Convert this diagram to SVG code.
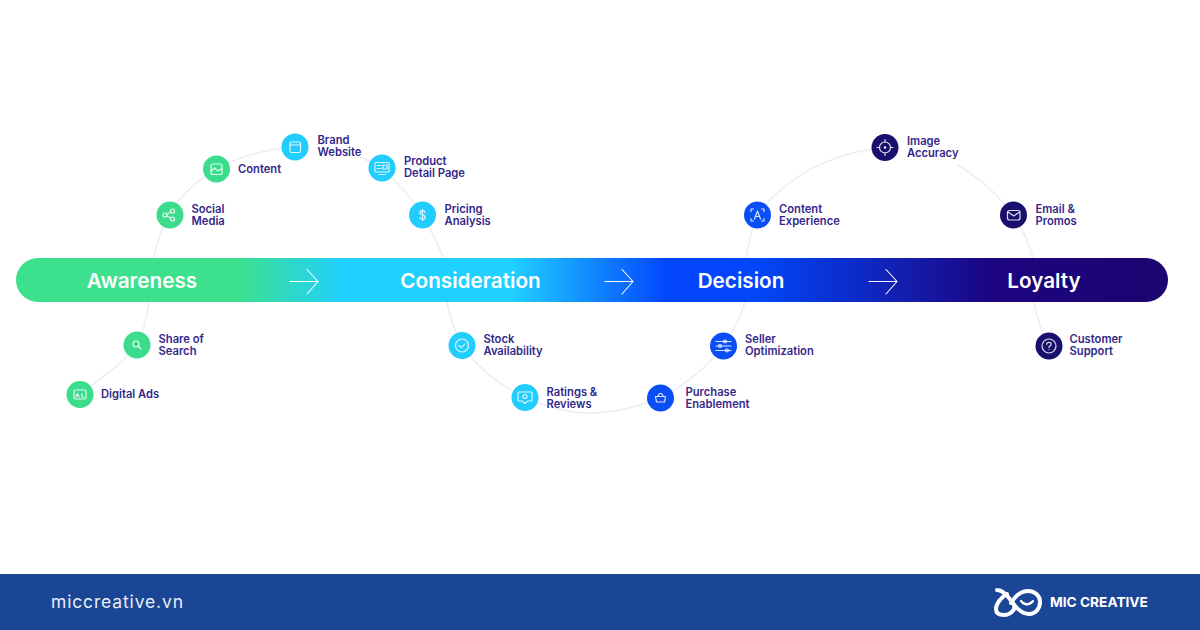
<svg xmlns="http://www.w3.org/2000/svg" width="1200" height="630" viewBox="0 0 1200 630">
<style>
.c{fill:none;stroke:#eeedf3;stroke-width:1.5;stroke-linecap:round}
.n{font:600 11.2px Inter,"Liberation Sans",sans-serif;fill:#33278a}
.s{font:600 20.7px Inter,"Liberation Sans",sans-serif;fill:#fff;text-anchor:middle}
.i{fill:none;stroke:#fff;stroke-width:1.2;stroke-linecap:round;stroke-linejoin:round;stroke-opacity:.85}
.a{fill:none;stroke:#fff;stroke-width:1.1;stroke-linecap:round;stroke-linejoin:round}
.g{fill:#3bdc8c}.b{fill:#20cdfd}.l{fill:#0a4ef5}.d{fill:#1b0f6e}
</style>
<defs>
<linearGradient id="bar" x1="16" x2="1168" y1="0" y2="0" gradientUnits="userSpaceOnUse">
<stop offset="0" stop-color="#3de08c"/>
<stop offset=".19" stop-color="#3de08c"/>
<stop offset=".285" stop-color="#20d0ff"/>
<stop offset=".43" stop-color="#20d0ff"/>
<stop offset=".565" stop-color="#0346ff"/>
<stop offset=".645" stop-color="#0346f8"/>
<stop offset=".85" stop-color="#1c0480"/>
<stop offset="1" stop-color="#1a0570"/>
</linearGradient>
</defs>
<rect width="1200" height="630" fill="#fff"/>
<g id="connectors">
<path class="c" d="M80 394C105 376 128 358 137 345C143 333 147 317 149 302"/>
<path class="c" d="M154 258C157 241 162 227 169 214C180 196 198 180 216 169C240 156 268 149 295 147"/>
<path class="c" d="M362 158C369 161 375 165 381 168C397 181 411 197 422 215C432 232 439 245 443 258"/>
<path class="c" d="M447 302C450 318 455 332 462 345C476 367 500 386 525 397C546 407 570 413 590 413C615 413 640 406 660 398C685 385 708 366 723 346C733 331 741 317 745 302"/>
<path class="c" d="M746 258C749 242 752 228 757 215C785 178 830 152 885 148"/>
<path class="c" d="M958 165C980 178 998 195 1013 215C1023 229 1029 243 1033 258"/>
<path class="c" d="M1034 302C1037 318 1041 332 1049 346"/>
</g>
<g id="stage-bar">
<rect x="16" y="258" width="1152" height="44" rx="22" fill="url(#bar)"/>
<text class="s" x="142" y="287.500">Awareness</text>
<text class="s" x="470.500" y="287.500">Consideration</text>
<text class="s" x="741" y="287.500">Decision</text>
<text class="s" x="1044" y="287.500">Loyalty</text>
</g>
<g id="arrows">
<path class="a" d="M290 281.500H318M307 269.500L318 281.500L307 294"/>
<path class="a" d="M605 281.500H633M622 269.500L633 281.500L622 294"/>
<path class="a" d="M869 281.500H897M886 269.500L897 281.500L886 294"/>
</g>
<g id="node-digital-ads"><circle class="g" cx="80" cy="394.500" r="13.500"/><rect class="i" x="74" y="390" width="12" height="9" rx="1.500"/><path class="i" d="M76 397l1.500-3.500 1.500 3.500M82 393.500v3.500h2"/><text class="n" x="101" y="398">Digital Ads</text></g>
<g id="node-share-of-search"><circle class="g" cx="137" cy="345" r="13.500"/><circle class="i" cx="136" cy="344" r="3"/><path class="i" d="M138.500 346.500L141 349"/><text class="n" x="158.500" y="342.500">Share of</text><text class="n" x="158.500" y="354.500">Search</text></g>
<g id="node-social-media"><circle class="g" cx="170" cy="215" r="13.500"/><circle class="i" cx="165" cy="215" r="2"/><circle class="i" cx="172.500" cy="211" r="2"/><circle class="i" cx="172.500" cy="219" r="2"/><path class="i" d="M167 214l3.500-2M167 216l3.500 2"/><text class="n" x="191.500" y="212.500">Social</text><text class="n" x="191.500" y="224.500">Media</text></g>
<g id="node-content"><circle class="g" cx="216.500" cy="169" r="13.500"/><rect class="i" x="211" y="164" width="11" height="10.500" rx="2"/><path class="i" d="M211.500 171l3-3 3.500 3 4-2.500"/><text class="n" x="238" y="172.500">Content</text></g>
<g id="node-brand-website"><circle class="b" cx="295" cy="147" r="13.500"/><rect class="i" x="290" y="142" width="10.500" height="10.500" rx="1.500"/><path class="i" d="M290 145h10.500"/><text class="n" x="317.500" y="144">Brand</text><text class="n" x="317.500" y="156">Website</text></g>
<g id="node-product-detail-page"><circle class="b" cx="382" cy="168" r="13.500"/><rect class="i" x="375" y="162.500" width="14" height="9.500" rx="1"/><path class="i" d="M377 165.500h4M377 168.500h4M383 165h4v4h-4zM379 174.500h6"/><text class="n" x="404" y="165">Product</text><text class="n" x="404" y="177">Detail Page</text></g>
<g id="node-pricing-analysis"><circle class="b" cx="422.500" cy="215" r="13.500"/><path class="i" d="M425 212.500c-.4-1.300-1.300-1.800-2.500-1.800s-2.600.7-2.600 2.100 1.300 1.900 2.600 2.200 2.600.9 2.600 2.200-1.300 2.100-2.600 2.100-2.200-.6-2.600-1.700M422.500 209.500v11"/><text class="n" x="444.500" y="212.500">Pricing</text><text class="n" x="444.500" y="224.500">Analysis</text></g>
<g id="node-stock-availability"><circle class="b" cx="462" cy="345.500" r="13.500"/><circle class="i" cx="462" cy="345.500" r="6.500"/><path class="i" d="M459 345.500l2.200 2.200 3.800-3.800"/><text class="n" x="483.500" y="343">Stock</text><text class="n" x="483.500" y="355">Availability</text></g>
<g id="node-ratings-reviews"><circle class="b" cx="525" cy="397.500" r="13.500"/><path class="i" d="M519 392h12a1 1 0 0 1 1 1v7a1 1 0 0 1-1 1h-3l-3 2.500-3-2.500h-3a1 1 0 0 1-1-1v-7a1 1 0 0 1 1-1z"/><circle class="i" cx="525" cy="396.500" r="2"/><text class="n" x="546.500" y="395.500">Ratings &amp;</text><text class="n" x="546.500" y="407.500">Reviews</text></g>
<g id="node-purchase-enablement"><circle class="l" cx="660.500" cy="398" r="13.500"/><path class="i" d="M655.500 396.500h10l-1 5.500h-8zM657.500 396.500l2-3h2l2 3"/><text class="n" x="685.500" y="395.500">Purchase</text><text class="n" x="685.500" y="407.500">Enablement</text></g>
<g id="node-seller-optimization"><circle class="l" cx="723.500" cy="346" r="13.500"/><path class="i" d="M716 341.500h15M716 346h15M716 350.500h15"/><circle class="i" cx="725" cy="341.500" r="1.500" fill="#0a4ef5"/><circle class="i" cx="720" cy="346" r="1.500" fill="#0a4ef5"/><circle class="i" cx="727" cy="350.500" r="1.500" fill="#0a4ef5"/><text class="n" x="745" y="343">Seller</text><text class="n" x="745" y="355">Optimization</text></g>
<g id="node-content-experience"><circle class="l" cx="757.500" cy="215" r="13.500"/><path class="i" d="M751 211.500v-2.500h2.500M761.500 209h2.500v2.500M751 218.500v2.500h2.500M761.500 221h2.500v-2.500M754.500 219l3-8 3 8M755.500 216.500h4"/><text class="n" x="779" y="212.500">Content</text><text class="n" x="779" y="224.500">Experience</text></g>
<g id="node-image-accuracy"><circle class="d" cx="885" cy="147.500" r="13.500"/><circle class="i" cx="885" cy="147.500" r="5.500"/><circle cx="885" cy="147.500" r="1.200" fill="#fff"/><path class="i" d="M885 139.500v2.500M885 153v2.500M877 147.500h2.500M890.500 147.500h2.500"/><text class="n" x="907" y="145">Image</text><text class="n" x="907" y="157">Accuracy</text></g>
<g id="node-email-promos"><circle class="d" cx="1013.500" cy="215" r="13.500"/><rect class="i" x="1007.500" y="210.500" width="12.500" height="9.500" rx="2"/><path class="i" d="M1008 212l5.700 4 5.800-4"/><text class="n" x="1035.500" y="212.500">Email &amp;</text><text class="n" x="1035.500" y="224.500">Promos</text></g>
<g id="node-customer-support"><circle class="d" cx="1049" cy="346" r="13.500"/><circle class="i" cx="1049" cy="346" r="7"/><path class="i" d="M1046.800 344.300c0-1.300 1-2 2.200-2s2.200.8 2.200 1.900c0 1.600-2.200 1.600-2.200 3.300M1049 349.500v.1"/><text class="n" x="1069.500" y="343">Customer</text><text class="n" x="1069.500" y="355">Support</text></g>
<g id="footer">
<rect y="574" width="1200" height="56" fill="#1b4595"/>
<text x="51" y="607.500" style="font:400 17.500px Inter,'Liberation Sans',sans-serif;fill:#e8edf6;letter-spacing:.85px">miccreative.vn</text>
<path d="M997 590C1003 590 1008 596 1012 602C1017 609 1022 614 1029 614C1036 614 1040 608 1040 602C1040 595 1034 591 1028 591C1020 591 1014 598 1011 603" fill="none" stroke="#fff" stroke-width="4" stroke-linecap="round"/>
<path d="M1007 594C1001 597 996 604 996 609C996 614 1000 615 1004 615C1010 615 1016 610 1014 605" fill="none" stroke="#fff" stroke-width="4" stroke-linecap="round"/>
<path d="M1021 601C1024 605 1029 606 1033 601" fill="none" stroke="#fff" stroke-width="2.200" stroke-linecap="round"/>
<text x="1050" y="607" style="font:700 13.700px Inter,'Liberation Sans',sans-serif;fill:#fff">MIC CREATIVE</text>
</g>
</svg>
